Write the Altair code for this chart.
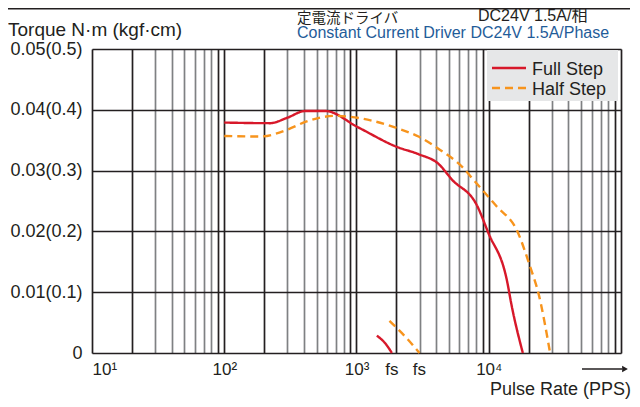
import altair as alt
import pandas as pd

# ---- data ----
series_names = ["Full Step", "Half Step"]
series_colors = ["#d7182a", "#f7941d"]

full_freq = [100, 223, 300, 409, 580, 1031, 2018, 2943, 4170, 5280, 8130, 9950, 13700, 14960, 18100]
full_torque = [0.0379, 0.0378, 0.0387, 0.0398, 0.0398, 0.0371, 0.0339, 0.0327, 0.0311, 0.0285,
               0.0243, 0.0197, 0.0120, 0.0076, 0.0]
half_freq = [100, 187, 305, 409, 690, 846, 2018, 2943, 4290, 6440, 7660, 11500, 16300, 20550, 23770, 29100]
half_torque = [0.0357, 0.0356, 0.0368, 0.0380, 0.0390, 0.0389, 0.0370, 0.0356, 0.0334, 0.0304,
               0.0285, 0.0241, 0.0202, 0.0142, 0.0098, 0.0]
full_fs_freq = [1426, 1648, 1852]
full_fs_torque = [0.00285, 0.0016, 0.0]
half_fs_freq = [1775, 2405, 2993]
half_fs_torque = [0.0053, 0.0024, 0.0]

x_label_values = [10, 100, 1000, 10000]
x_labels = ["10¹", "10²", "10³", "10⁴"]
x_grid = [m * 10 ** e for e in range(1, 5) for m in range(1, 10)] + [100000]
x_dark = [m * 10 ** e for e in range(1, 5) for m in (1, 2, 9)] + [100000]

y_grid = [0, 0.005, 0.01, 0.015, 0.02, 0.025, 0.03, 0.035, 0.04, 0.045, 0.05]
y_label_values = [0, 0.01, 0.02, 0.03, 0.04, 0.05]
y_labels = ["0", "0.01(0.1)", "0.02(0.2)", "0.03(0.3)", "0.04(0.4)", "0.05(0.5)"]

fs_label = "fs"
title_y = "Torque N·m (kgf·cm)"
title_x = "Pulse Rate (PPS)"
header_jp = "定電流ドライバ"
header_jp2 = "DC24V 1.5A/相"
header_en = "Constant Current Driver DC24V 1.5A/Phase"

FONT = "'Liberation Sans', Arial, Helvetica, sans-serif"
MIXFONT = "'Liberation Sans', 'Noto Sans CJK JP', sans-serif"
JFONT = "'Noto Sans CJK JP', sans-serif"
INK = "#231f20"
GRAY = "#7f8183"
BG = "#e6e7e8"

# ---- tables ----
rows = []
for f, t in zip(full_freq, full_torque):
    rows.append({"freq": f, "torque": t, "series": series_names[0], "seg": "full"})
for f, t in zip(half_freq, half_torque):
    rows.append({"freq": f, "torque": t, "series": series_names[1], "seg": "half"})
for f, t in zip(full_fs_freq, full_fs_torque):
    rows.append({"freq": f, "torque": t, "series": series_names[0], "seg": "full_fs"})
for f, t in zip(half_fs_freq, half_fs_torque):
    rows.append({"freq": f, "torque": t, "series": series_names[1], "seg": "half_fs"})
df = pd.DataFrame(rows)

fs_df = pd.DataFrame({"freq": [full_fs_freq[-1], half_fs_freq[-1]],
                      "torque": [0.0, 0.0], "label": [fs_label, fs_label]})

# ---- label expressions ----
x_expr = " : ".join(f"datum.value == {v} ? '{l}'" for v, l in zip(x_label_values, x_labels)) + " : ''"
y_expr = " : ".join(f"abs(datum.value - {v}) < 1e-9 ? '{l}'" for v, l in zip(y_label_values, y_labels)) + " : ''"
x_dark_test = "indexof([" + ",".join(str(v) for v in x_dark) + "], datum.value) >= 0"
y_dark_test = "abs(datum.value * 100 - round(datum.value * 100)) < 1e-6"

x_enc = alt.X(
    "freq:Q",
    scale=alt.Scale(type="log", domain=[10, 100000], nice=False),
    axis=alt.Axis(
        title=None, values=x_grid, grid=True, ticks=False, domain=False,
        gridColor={"condition": {"test": x_dark_test, "value": INK}, "value": GRAY},
        gridWidth=1.7, labelExpr=x_expr, labelFont=FONT, labelFontSize=17,
        labelColor=INK, labelPadding=8, labelFlush=True, labelOverlap=False,
    ),
)
y_enc = alt.Y(
    "torque:Q",
    scale=alt.Scale(domain=[0, 0.05], nice=False, zero=False),
    axis=alt.Axis(
        title=None, values=y_grid, grid=True, ticks=False, domain=False,
        gridColor={"condition": {"test": y_dark_test, "value": INK}, "value": GRAY},
        gridWidth=1.7, labelExpr=y_expr, labelFont=FONT, labelFontSize=18,
        labelColor=INK, labelPadding=10, labelOverlap=False,
    ),
)

lines = alt.Chart(df).mark_line(strokeWidth=2.4, interpolate="monotone").encode(
    x=x_enc,
    y=y_enc,
    color=alt.Color("series:N", scale=alt.Scale(domain=series_names, range=series_colors), legend=None),
    strokeDash=alt.StrokeDash("series:N", scale=alt.Scale(domain=series_names, range=[[1, 0], [8, 5]]), legend=None),
    detail="seg:N",
)

fs_text = alt.Chart(fs_df).mark_text(
    dy=22, baseline="alphabetic", align="center", font=FONT, fontSize=17, color=INK
).encode(x="freq:Q", y="torque:Q", text="label:N")


def txt(s, x, y, size, align="left", color=INK, font=FONT, baseline="alphabetic"):
    return alt.Chart(pd.DataFrame({"t": [s]})).mark_text(
        align=align, baseline=baseline, font=font, fontSize=size, color=color
    ).encode(x=alt.value(x), y=alt.value(y), text="t:N")


dummy = pd.DataFrame({"a": [0]})

# manual legend
legend_bg = alt.Chart(dummy).mark_rect(fill=BG).encode(
    x=alt.value(395), x2=alt.value(526), y=alt.value(1), y2=alt.value(52))
legend_layers = [legend_bg]
dashes = [[1, 0], [8, 5]]
for i, name in enumerate(series_names):
    ldf = pd.DataFrame({"series": [name]})
    legend_layers.append(
        alt.Chart(ldf).mark_rule(strokeWidth=2.4, color=series_colors[i], strokeDash=dashes[i]).encode(
            x=alt.value(400), x2=alt.value(434), y=alt.value(19 + 20 * i)))
    legend_layers.append(
        alt.Chart(ldf).mark_text(align="left", baseline="alphabetic", font=FONT, fontSize=18, color=INK).encode(
            x=alt.value(440), y=alt.value(26 + 20 * i), text="series:N"))

top_rule = alt.Chart(dummy).mark_rule(color=INK, strokeWidth=2).encode(
    x=alt.value(-84), x2=alt.value(538), y=alt.value(-40.5))
arrow_line = alt.Chart(dummy).mark_rule(color=INK, strokeWidth=1.5).encode(
    x=alt.value(490), x2=alt.value(530), y=alt.value(320))
arrow_head = alt.Chart(dummy).mark_point(shape="triangle-right", filled=True, color=INK, size=45, opacity=1).encode(
    x=alt.value(533), y=alt.value(320))

chart = alt.layer(
    lines,
    fs_text,
    *legend_layers,
    txt(title_y, -84, -13, 19),
    txt(header_jp, 205, -26, 14.5, font=JFONT),
    txt(header_jp2, 386, -28, 16, font=MIXFONT),
    txt(header_en, 205, -11, 16, color="#1f5c99"),
    txt(title_x, 539, 346, 18, align="right"),
    top_rule,
    arrow_line,
    arrow_head,
).properties(
    width=529,
    height=304,
    padding={"left": 84, "top": 41, "right": 11, "bottom": 46},
    autosize=alt.AutoSizeParams(type="none"),
).configure_view(
    fill=BG, stroke=INK, strokeWidth=2
).configure(background="white")

chart.save("out.html", embed_options={"renderer": "svg", "actions": False})
